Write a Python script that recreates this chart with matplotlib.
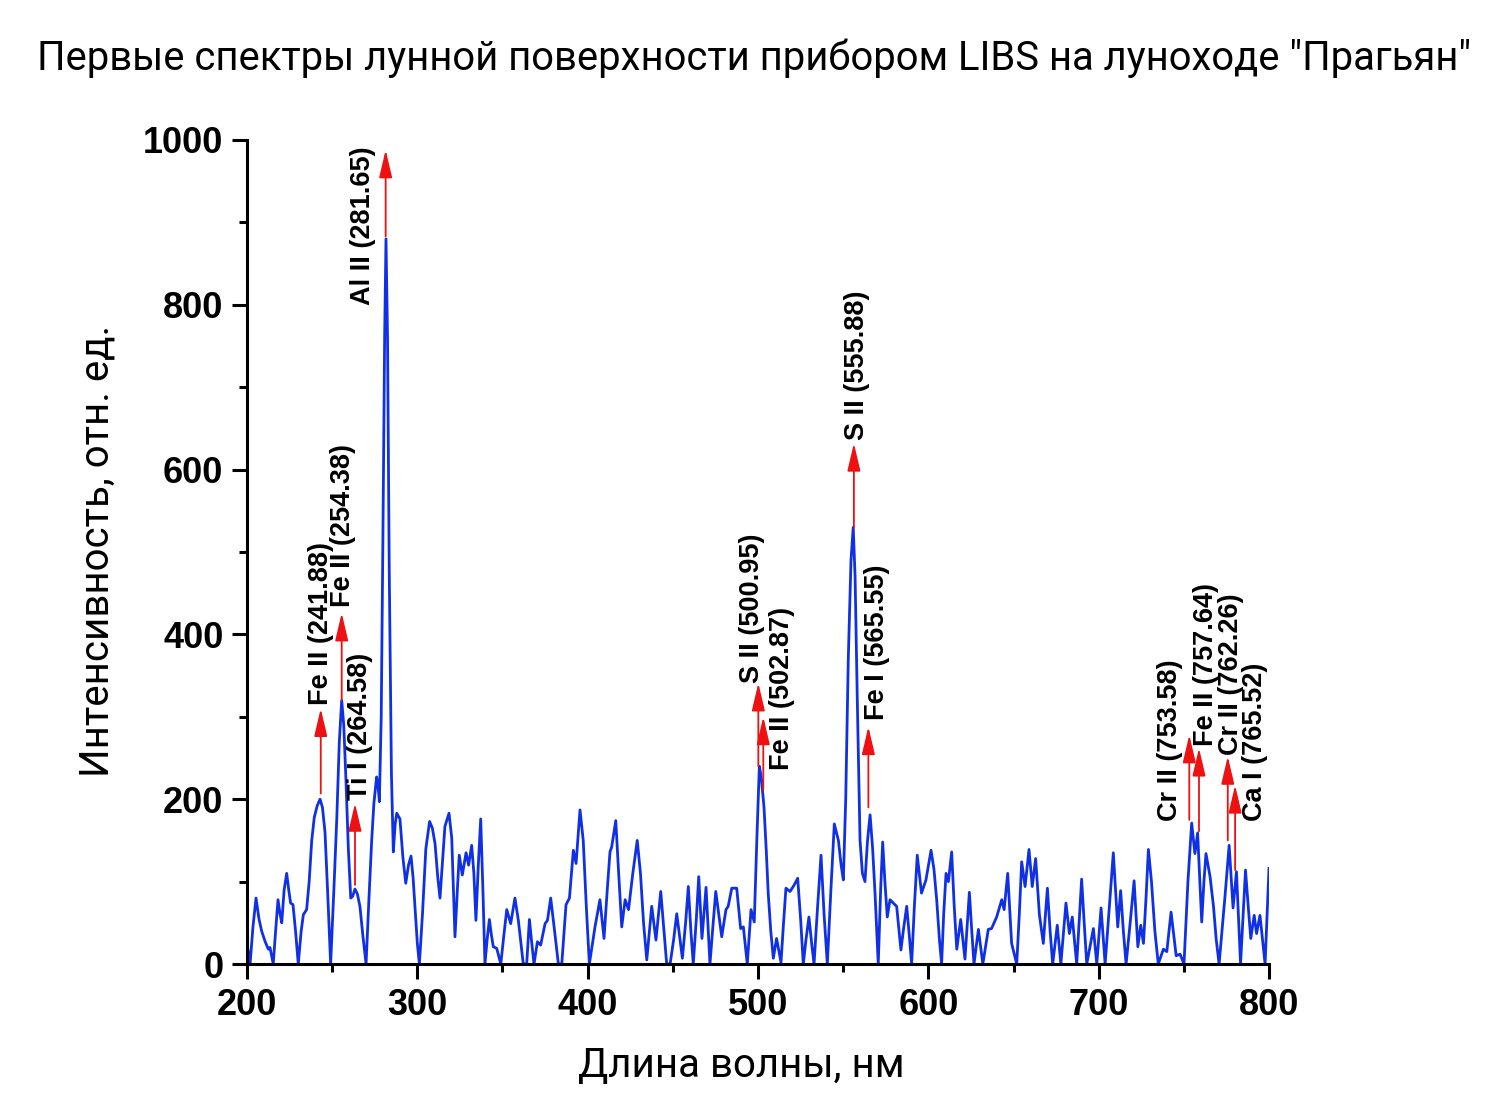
import numpy as np
import matplotlib
matplotlib.use('Agg')
import matplotlib.pyplot as plt

# шрифты
plt.rcParams['font.family'] = ['Liberation Sans', 'DejaVu Sans']
plt.rcParams['axes.unicode_minus'] = False

# спектр (длина волны, нм / интенсивность)
wavelength = [
    200.0, 201.8, 203.5, 205.3, 207.0, 208.6, 210.5, 212.5, 213.5, 215.4,
    216.8, 218.2, 219.3, 220.4, 221.8, 223.3, 224.5, 225.6, 227.0, 228.5,
    230.1, 231.8, 233.1, 235.0, 236.5, 238.0, 239.5, 241.2, 242.9, 244.3,
    245.8, 247.5, 249.1, 251.0, 252.7, 254.2, 255.6, 256.8, 258.1, 259.5,
    260.9, 262.0, 263.4, 264.8, 266.3, 268.0, 269.9, 271.5, 273.2, 274.5,
    276.1, 277.0, 277.7, 278.8, 279.8, 280.8, 281.6, 282.5, 283.5, 284.8,
    285.9, 287.0, 287.9, 289.8, 291.5, 293.2, 294.8, 296.3, 297.5, 298.6,
    300.0, 301.2, 303.0, 305.0, 307.2, 308.8, 310.4, 312.0, 313.3, 314.8,
    316.2, 318.6, 320.2, 321.2, 322.1, 323.5, 324.6, 326.4, 328.6, 330.1,
    331.9, 333.2, 334.4, 335.8, 337.2, 338.5, 339.7, 341.0, 342.3, 343.5,
    344.6, 346.6, 349.0, 350.8, 352.5, 354.8, 357.3, 359.3, 360.8, 362.2,
    364.2, 365.8, 367.2, 368.5, 370.5, 372.4, 375.0, 376.4, 378.3, 380.3,
    382.8, 384.8, 387.3, 389.3, 391.6, 393.2, 395.5, 397.4, 399.2, 401.0,
    402.8, 404.3, 407.2, 409.6, 411.5, 413.1, 414.1, 416.5, 418.2, 420.0,
    422.0, 424.0, 426.5, 429.1, 431.0, 432.8, 434.7, 437.6, 440.1, 442.9,
    444.8, 446.4, 448.4, 450.5, 452.3, 455.6, 457.5, 459.1, 460.6, 462.0,
    463.8, 465.2, 467.1, 469.5, 471.8, 473.5, 475.2, 477.0, 478.7, 481.2,
    482.5, 484.6, 487.5, 489.8, 491.4, 493.7, 495.9, 497.8, 499.3, 500.8,
    502.0, 503.5, 504.8, 506.0, 507.5, 509.0, 510.9, 513.5, 515.0, 516.4,
    518.8, 521.0, 523.3, 525.0, 526.6, 528.2, 529.9, 531.5, 532.9, 535.0,
    537.0, 538.8, 540.7, 542.8, 544.8, 546.0, 547.2, 548.8, 550.1, 551.5,
    553.0, 554.6, 555.9, 557.0, 558.3, 559.9, 561.3, 562.8, 564.3, 565.8,
    567.3, 568.7, 570.6, 572.0, 573.2, 574.5, 575.9, 577.5, 579.4, 581.4,
    582.8, 583.9, 585.6, 587.3, 588.8, 590.2, 591.8, 593.5, 596.0, 598.6,
    601.6, 603.3, 604.9, 606.5, 607.8, 609.0, 610.4, 611.8, 613.7, 615.2,
    616.7, 619.0, 621.5, 624.1, 625.5, 626.8, 629.4, 632.0, 635.2, 637.1,
    640.1, 643.1, 644.5, 646.6, 648.9, 651.9, 653.4, 654.8, 656.8, 659.1,
    661.0, 663.0, 665.2, 667.5, 669.9, 671.5, 673.0, 675.7, 677.8, 680.8,
    682.8, 684.5, 687.1, 688.5, 690.0, 691.5, 693.0, 696.9, 698.9, 701.4,
    703.8, 706.3, 708.6, 711.2, 712.9, 714.5, 716.1, 718.5, 720.8, 723.0,
    724.7, 726.3, 727.8, 729.2, 731.0, 733.0, 735.0, 738.0, 740.0, 742.5,
    745.5, 747.8, 750.1, 752.4, 754.6, 756.5, 758.1, 760.5, 761.8, 763.0,
    765.4, 767.4, 769.0, 770.7, 774.2, 776.6, 778.9, 780.9, 783.3, 786.2,
    787.8, 789.3, 791.3, 792.7, 794.7, 797.7, 800.0,
]
intensity = [
    25, 0, 45, 80, 55, 40, 28, 18, 20, 0,
    40, 78, 62, 50, 90, 110, 90, 74, 72, 40,
    0, 40, 60, 66, 100, 150, 178, 192, 200, 190,
    160, 80, 0, 90, 176, 270, 320, 290, 223, 140,
    80, 82, 91, 85, 70, 35, 0, 75, 150, 195,
    227, 215, 197, 300, 520, 760, 880, 760, 480, 230,
    136, 170, 183, 176, 130, 98, 120, 131, 105, 70,
    25, 0, 60, 140, 173, 165, 146, 105, 80, 125,
    167, 183, 153, 90, 33, 90, 132, 108, 135, 120,
    144, 110, 53, 120, 176, 90, 0, 30, 54, 35,
    21, 19, 0, 35, 66, 49, 80, 53, 25, 0,
    0, 54, 25, 0, 27, 23, 49, 53, 80, 45,
    0, 0, 72, 80, 138, 122, 187, 150, 70, 0,
    25, 45, 78, 31, 90, 136, 142, 174, 110, 45,
    78, 66, 110, 150, 110, 50, 5, 70, 29, 88,
    40, 0, 0, 30, 61, 7, 50, 94, 40, 0,
    55, 106, 31, 93, 0, 45, 88, 60, 33, 66,
    70, 92, 92, 43, 45, 0, 66, 51, 150, 240,
    225, 191, 140, 86, 40, 7, 31, 2, 50, 92,
    88, 95, 104, 55, 0, 30, 57, 25, 0, 70,
    132, 60, 0, 90, 170, 160, 150, 120, 102, 200,
    370, 490, 530, 470, 320, 150, 110, 100, 150, 181,
    140, 86, 0, 90, 148, 100, 57, 78, 74, 70,
    40, 17, 45, 70, 35, 0, 70, 132, 86, 102,
    138, 115, 78, 30, 0, 60, 110, 100, 136, 70,
    18, 54, 6, 87, 40, 0, 42, 0, 42, 43,
    57, 78, 66, 110, 25, 0, 60, 124, 94, 139,
    94, 128, 60, 25, 92, 40, 0, 47, 0, 74,
    37, 57, 0, 50, 103, 50, 0, 43, 0, 68,
    0, 70, 135, 45, 89, 40, 0, 50, 101, 21,
    47, 25, 80, 139, 100, 40, 0, 18, 15, 63,
    10, 12, 0, 100, 171, 134, 159, 51, 100, 134,
    106, 70, 30, 0, 83, 144, 68, 112, 0, 114,
    70, 31, 59, 37, 59, 0, 116,
]

# подписи линий
line_labels = ['Fe II (241.88)', 'Fe II (254.38)', 'Ti I (264.58)', 'Al II (281.65)',
               'S II (500.95)', 'Fe II (502.87)', 'S II (555.88)', 'Fe I (565.55)',
               'Cr II (753.58)', 'Fe II (757.64)', 'Cr II (762.26)', 'Ca I (765.52)']
arrow_x = [243.3, 255.6, 263.4, 281.4, 500.2, 503.1, 556.3, 564.8, 753.2, 758.9, 775.8, 780.1]
arrow_from = [207, 320, 96, 883, 240, 211, 529, 190, 175, 161, 150, 114]
arrow_to = [310, 426, 195, 988, 341, 300, 632, 288, 278, 262, 252, 217]
# положение текста: x, y, вертикальное выравнивание
label_x = [243.4, 256.4, 266.3, 268.3, 496.3, 513.9, 557.9, 569.7, 741.9, 763.3, 777.4, 791.8]
label_y = [314, 433, 199, 992, 341, 434, 636, 296, 173, 264, 254, 173]
label_va = ['bottom', 'bottom', 'bottom', 'top', 'bottom', 'top',
            'bottom', 'bottom', 'bottom', 'bottom', 'bottom', 'bottom']

fig = plt.figure(figsize=(15, 11), dpi=100)
ax = fig.add_axes([247 / 1500, 1 - 964 / 1100, (1269 - 247) / 1500, (964 - 140) / 1100])

ax.plot(wavelength, intensity, color='#1030e6', lw=2.0, solid_joinstyle='round')

for i in range(len(line_labels)):
    ax.annotate('', xy=(arrow_x[i], arrow_to[i]), xytext=(arrow_x[i], arrow_from[i]),
                arrowprops=dict(arrowstyle='-|>,head_length=1.7,head_width=0.4',
                                color='#ee1111', lw=1.3, mutation_scale=10,
                                shrinkA=0, shrinkB=0))
    ax.text(label_x[i], label_y[i], line_labels[i], rotation=90, ha='center',
            va=label_va[i], fontsize=19.5, fontweight='bold')

ax.set_xlim(200, 800)
ax.set_ylim(0, 1000)
ax.set_xticks([200, 300, 400, 500, 600, 700, 800])
ax.set_xticks(np.arange(250, 800, 100), minor=True)
ax.set_yticks([0, 200, 400, 600, 800, 1000])
ax.set_yticks(np.arange(100, 1000, 200), minor=True)

for s in ['top', 'right']:
    ax.spines[s].set_visible(False)
for s in ['left', 'bottom']:
    ax.spines[s].set_linewidth(2.2)

ax.tick_params(which='major', direction='out', length=11, width=2.2, labelsize=26, pad=6)
ax.tick_params(which='minor', direction='out', length=6, width=2.2)
for lab in ax.get_xticklabels() + ax.get_yticklabels():
    lab.set_fontweight('bold')

fig.text(0.503, 1 - 58 / 1100, 'Первые спектры лунной поверхности прибором LIBS на луноходе "Прагьян"',
         ha='center', va='center', fontsize=28.8, family=['Roboto', 'DejaVu Sans'])
fig.text(741 / 1500, 1 - 1065 / 1100, 'Длина волны, нм', ha='center', va='center',
         fontsize=29, family=['Roboto', 'DejaVu Sans'])
fig.text(97 / 1500, 1 - 551 / 1100, 'Интенсивность, отн. ед.', ha='center', va='center',
         rotation=90, fontsize=29, family=['Roboto', 'DejaVu Sans'])

plt.savefig('out.png', dpi=100)
